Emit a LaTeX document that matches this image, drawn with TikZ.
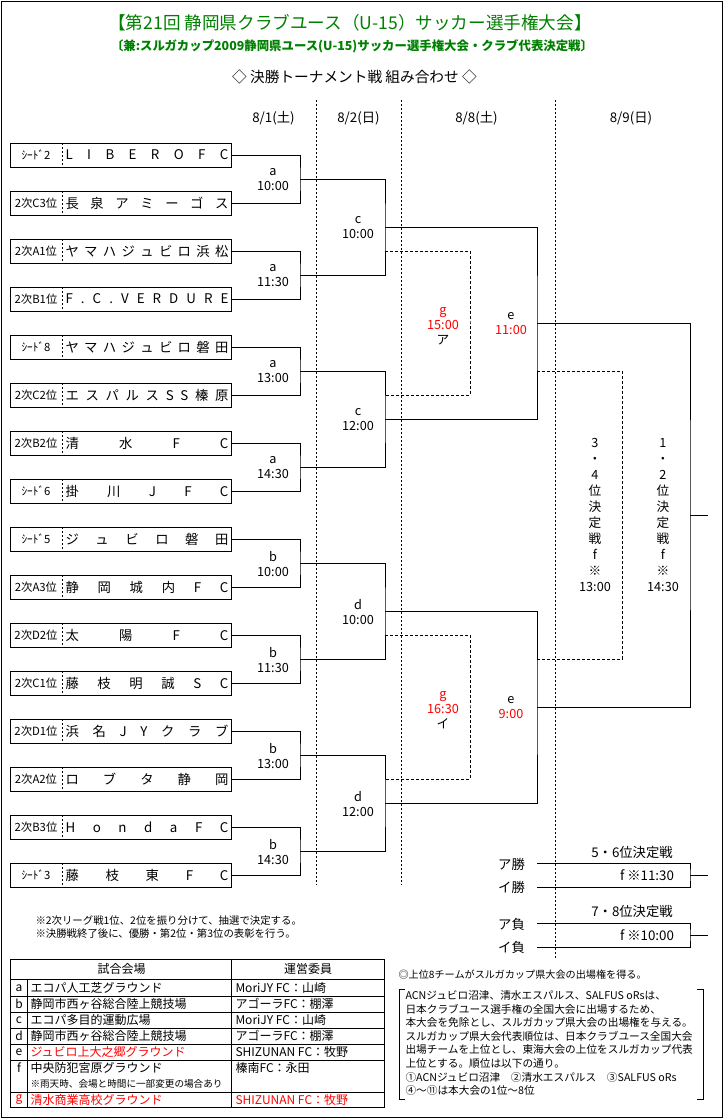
\documentclass[tikz,border=0pt]{standalone}
\usepackage{fontspec}
\setmainfont{Noto Sans CJK JP}
\definecolor{ttlgreen}{RGB}{0,128,0}

\begin{document}
\begin{tikzpicture}[x=0.75pt,y=-0.75pt,line width=0.75pt,
    teambox/.style={draw,minimum width=165.4pt,minimum height=18pt,inner sep=0pt},
    seedlbl/.style={font=\fontsize{8.5}{10}\selectfont,inner sep=0pt},
    namelbl/.style={font=\fontsize{10}{12}\selectfont,inner sep=0pt,anchor=west},
    matchlbl/.style={font=\fontsize{9.5}{11.25}\selectfont,align=center,inner sep=0pt},
    datelbl/.style={font=\fontsize{10}{12}\selectfont,inner sep=0pt},
    vtext/.style={font=\fontsize{9.5}{12}\selectfont,align=center,inner sep=0pt},
    tbltxt/.style={font=\fontsize{9}{11}\selectfont,anchor=west,inner sep=0pt},
    notetxt/.style={font=\fontsize{7.8}{9}\selectfont,anchor=west,inner sep=0pt},
    loser/.style={dash pattern=on 2.25pt off 1.5pt},
    daysep/.style={dash pattern=on 1.5pt off 1.5pt}]
\useasboundingbox (0,0) rectangle (724,1118);
\draw (1,1) rectangle (722,1117);

% headings
\node[font=\fontsize{13.2}{15}\selectfont,text=ttlgreen] (ttl) at (350,23) {【第21回 静岡県クラブユース（U-15）サッカー選手権大会】};
\node[font=\bfseries\fontsize{9.3}{11}\selectfont,text=ttlgreen] (sub) at (352,46) {〔兼:スルガカップ2009静岡県ユース(U-15)サッカー選手権大会・クラブ代表決定戦〕};
\node[font=\fontsize{11}{13}\selectfont] (hd) at (354.5,77) {◇ 決勝トーナメント戦 組み合わせ ◇};

% days
\node[datelbl] (d1) at (273.5,118) {8/1(土)};
\node[datelbl] (d2) at (358.5,118) {8/2(日)};
\node[datelbl] (d3) at (476.5,118) {8/8(土)};
\node[datelbl] (d4) at (631,118) {8/9(日)};
\draw[daysep] (316,100) -- (316,885);
\draw[daysep] (401,100) -- (401,885);
\draw[daysep] (555,100) -- (555,958);

% teams
\foreach \i/\pf/\tn in {1/ｼｰﾄﾞ2/L I B E R O F C,2/2次C3位/長 泉 ア ミ ー ゴ ス,3/2次A1位/ヤ マ ハ ジ ュ ビ ロ 浜 松,4/2次B1位/F . C . V E R D U R E,5/ｼｰﾄﾞ8/ヤ マ ハ ジ ュ ビ ロ 磐 田,6/2次C2位/エ ス パ ル ス S S 榛 原,7/2次B2位/清 水 F C,8/ｼｰﾄﾞ6/掛 川 J F C,9/ｼｰﾄﾞ5/ジ ュ ビ ロ 磐 田,10/2次A3位/静 岡 城 内 F C,11/2次D2位/太 陽 F C,12/2次C1位/藤 枝 明 誠 S C,13/2次D1位/浜 名 J Y ク ラ ブ,14/2次A2位/ロ ブ タ 静 岡,15/2次B3位/H o n d a F C,16/ｼｰﾄﾞ3/藤 枝 東 F C}{
  \pgfmathsetmacro\ty{155+48*(\i-1)}
  \node[teambox] (t\i) at (120.75,\ty) {};
  \node[seedlbl] (p\i) at (36,\ty) {\pf};
  \node[namelbl] (n\i) at (65,\ty) {\makebox[122.25pt][s]{\tn}};
  \draw[daysep] (62,\ty-12) -- (62,\ty+12);
}

% brackets
\foreach \k in {1,...,8}{
  \pgfmathtruncatemacro\ia{2*\k-1}
  \pgfmathtruncatemacro\ib{2*\k}
  \coordinate (m\k) at (300,{179+96*(\k-1)});
  \draw (t\ia.east) -| (m\k) |- (t\ib.east);
}
\foreach \k in {1,...,4}{
  \pgfmathtruncatemacro\ia{2*\k-1}
  \pgfmathtruncatemacro\ib{2*\k}
  \coordinate (q\k) at (385,{227+192*(\k-1)});
  \draw (m\ia) -| (q\k) |- (m\ib);
}
\coordinate (s1) at (537,323);
\coordinate (s2) at (537,707);
\coordinate (fin) at (690,515);
\coordinate (finout) at (708,515);
\draw (q1) -| (s1) |- (q2);
\draw (q3) -| (s2) |- (q4);
\draw (s1) -| (fin) |- (s2);
\draw (fin) -- (finout);

% losers
\coordinate (q1l) at (385,251);
\coordinate (q2l) at (385,395);
\coordinate (q3l) at (385,635);
\coordinate (q4l) at (385,779);
\coordinate (g1) at (470,323);
\coordinate (g2) at (470,707);
\draw[loser] (q1l) -| (g1) |- (q2l);
\draw[loser] (q3l) -| (g2) |- (q4l);
\coordinate (s1l) at (537,371);
\coordinate (s2l) at (537,659);
\coordinate (third) at (622,515);
\draw[loser] (s1l) -| (third) |- (s2l);

% match labels
\node[matchlbl] (ma1) at (273,180) {a\\10:00};
\node[matchlbl] (ma2) at (273,276) {a\\11:30};
\node[matchlbl] (ma3) at (273,372) {a\\13:00};
\node[matchlbl] (ma4) at (273,468) {a\\14:30};
\node[matchlbl] (mb1) at (273,564) {b\\10:00};
\node[matchlbl] (mb2) at (273,660) {b\\11:30};
\node[matchlbl] (mb3) at (273,756) {b\\13:00};
\node[matchlbl] (mb4) at (273,852) {b\\14:30};
\node[matchlbl] (mc1) at (358,228) {c\\10:00};
\node[matchlbl] (mc2) at (358,420) {c\\12:00};
\node[matchlbl] (md1) at (358,612) {d\\10:00};
\node[matchlbl] (md2) at (358,804) {d\\12:00};
\node[matchlbl] (me1) at (511,324) {e\\\textcolor{red}{11:00}};
\node[matchlbl] (me2) at (511,708) {e\\\textcolor{red}{9:00}};
\node[matchlbl] (mg1) at (443,326) {\textcolor{red}{g}\\\textcolor{red}{15:00}\\ア};
\node[matchlbl] (mg2) at (443,710) {\textcolor{red}{g}\\\textcolor{red}{16:30}\\イ};
\node[vtext] (f34) at (595,515) {3\\・\\4\\位\\決\\定\\戦\\f\\※\\13:00};
\node[vtext] (f12) at (663,515) {1\\・\\2\\位\\決\\定\\戦\\f\\※\\14:30};

% placement matches
\coordinate (w56a) at (537,863);
\coordinate (w56b) at (537,887);
\coordinate (p56) at (690,875);
\coordinate (p56o) at (708,875);
\draw (w56a) -| (p56) |- (w56b);
\draw (p56) -- (p56o);
\node[datelbl] (h56) at (632,852) {5・6位決定戦};
\node[datelbl] (l56a) at (511.5,864) {ア勝};
\node[datelbl] (l56b) at (511.5,887) {イ勝};
\node[datelbl] (t56) at (647,875) {f ※11:30};
\coordinate (w78a) at (537,923);
\coordinate (w78b) at (537,947);
\coordinate (p78) at (690,935);
\coordinate (p78o) at (708,935);
\draw (w78a) -| (p78) |- (w78b);
\draw (p78) -- (p78o);
\node[datelbl] (h78) at (632,911) {7・8位決定戦};
\node[datelbl] (l78a) at (511.5,924) {ア負};
\node[datelbl] (l78b) at (511.5,947) {イ負};
\node[datelbl] (t78) at (647,935) {f ※10:00};

% notes
\node[notetxt] (nt1) at (35,921) {※2次リーグ戦1位、2位を振り分けて、抽選で決定する。};
\node[notetxt] (nt2) at (35,934) {※決勝戦終了後に、優勝・第2位・第3位の表彰を行う。};

% venues
\draw (10.5,959) rectangle (384,1107);
\foreach \y in {979,996,1012,1028,1044,1060,1092}
  \draw (10.5,\y) -- (384,\y);
\draw (231.5,959) -- (231.5,1107);
\draw (27,979) -- (27,1107);
\node[tbltxt,anchor=center] (vh) at (121.5,969) {試合会場};
\node[tbltxt,anchor=center] (oh) at (308,969) {運営委員};
\foreach \l/\y/\v/\o in {a/988/エコパ人工芝グラウンド/MoriJY FC：山崎,b/1004/静岡市西ヶ谷総合陸上競技場/アゴーラFC：棚澤,c/1020/エコパ多目的運動広場/MoriJY FC：山崎,d/1036/静岡市西ヶ谷総合陸上競技場/アゴーラFC：棚澤,f/1068/中央防犯宮原グラウンド/榛南FC：永田}{
  \node[tbltxt,anchor=center] (vl\l) at (19,\y) {\l};
  \node[tbltxt] (vn\l) at (30,\y) {\v};
  \node[tbltxt] (vo\l) at (235,\y) {\o};
}
\node[tbltxt,anchor=center] (vle) at (19,1052) {e};
\node[tbltxt,text=red] (vne) at (30,1052) {ジュビロ上大之郷グラウンド};
\node[tbltxt] (voe) at (235,1052) {SHIZUNAN FC：牧野};
\node[tbltxt,font=\fontsize{7.2}{9}\selectfont] (vnf2) at (30,1084) {※雨天時、会場と時間に一部変更の場合あり};
\node[tbltxt,anchor=center,text=red] (vlg) at (19,1100) {g};
\node[tbltxt,text=red] (vng) at (30,1100) {清水商業高校グラウンド};
\node[tbltxt,text=red] (vog) at (235,1100) {SHIZUNAN FC：牧野};

% qualification note
\node[notetxt,font=\fontsize{7.6}{9}\selectfont] (q8) at (398,975) {◎上位8チームがスルガカップ県大会の出場権を得る。};
\draw (405,989) -- (399,989) -- (399,1099) -- (405,1099);
\draw (697,989) -- (703,989) -- (703,1099) -- (697,1099);
\node[notetxt,align=left,font=\fontsize{8}{10.2}\selectfont] (qtxt) at (405,1043) {ACNジュビロ沼津、清水エスパルス、SALFUS oRsは、\\日本クラブユース選手権の全国大会に出場するため、\\本大会を免除とし、スルガカップ県大会の出場権を与える。\\スルガカップ県大会代表順位は、日本クラブユース全国大会\\出場チームを上位とし、東海大会の上位をスルガカップ代表\\上位とする。順位は以下の通り。\\①ACNジュビロ沼津　②清水エスパルス　③SALFUS oRs\\④～⑪は本大会の1位～8位};
\end{tikzpicture}
\end{document}
